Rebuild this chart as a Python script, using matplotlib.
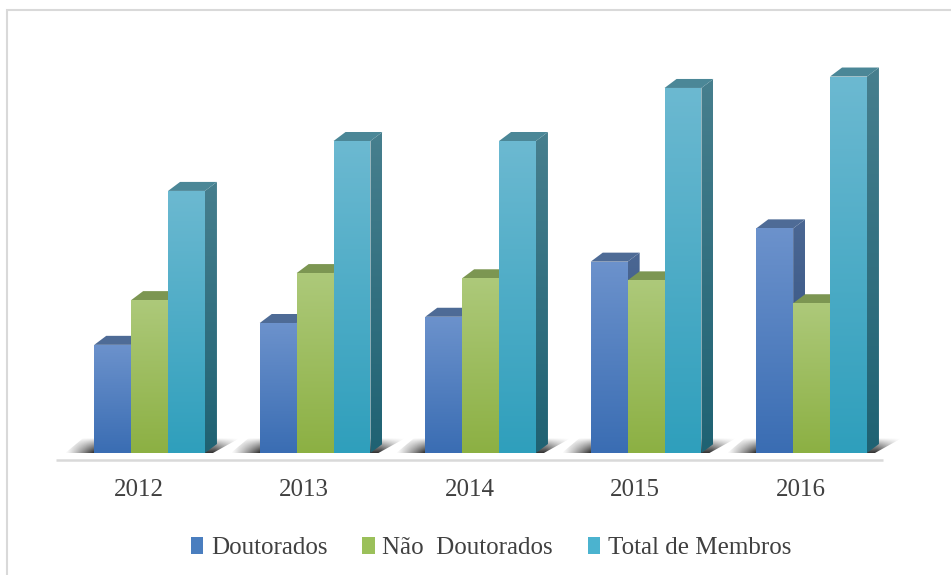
import numpy as np
import matplotlib
matplotlib.use('Agg')
import matplotlib.pyplot as plt
from matplotlib.patches import Polygon, Rectangle, Patch
from matplotlib.colors import to_rgb

plt.rcParams['font.family'] = ['Liberation Serif', 'DejaVu Serif']

############################################################################
# data
############################################################################
years = ['2012', '2013', '2014', '2015', '2016']
doutorados = [10.4, 12.5, 13.1, 18.4, 21.6]
nao_doutorados = [14.7, 17.3, 16.8, 16.6, 14.4]
total_membros = [25.2, 30.0, 30.0, 35.1, 36.2]
series_names = ['Doutorados', 'Não  Doutorados', 'Total de Membros']

# front gradient (top, bottom), side gradient, top face, legend colour
styles = [
    dict(front=('#6c92cc', '#3a6db3'), side=('#4b6793', '#2d4d7e'), top='#4e6b96', leg='#4a7ebf'),
    dict(front=('#adc97a', '#8cb043'), side=('#7d9654', '#66823a'), top='#7c9652', leg='#9bc05a'),
    dict(front=('#6cb9d1', '#2f9fbc'), side=('#477f8e', '#1f6273'), top='#4b8797', leg='#4bb3cf'),
]

############################################################################
# layout (pixels)
############################################################################
FIG_W, FIG_H = 951, 575
AX_L, AX_R, AX_T, AX_B = 40, 920, 30, 470
BASE_PX = 453        # value 0
X0_PX = 149.6        # centre of first group
GROUP_PX = 165.5
UNIT_PX = 10.4
DX = 12 / GROUP_PX   # depth offset in data units
DY = 9 / UNIT_PX
BAR_W = 36.9 / GROUP_PX

fig = plt.figure(figsize=(FIG_W / 100, FIG_H / 100), dpi=100)
fig.patches.append(Rectangle((6.5 / FIG_W, -0.1), 2, (1 - 9.5 / FIG_H) + 0.1,
                             transform=fig.transFigure, fill=False,
                             edgecolor='#d9d9d9', lw=1.5))
ax = fig.add_axes([AX_L / FIG_W, 1 - AX_B / FIG_H,
                   (AX_R - AX_L) / FIG_W, (AX_B - AX_T) / FIG_H])
ax.set_xlim((AX_L - X0_PX) / GROUP_PX, (AX_R - X0_PX) / GROUP_PX)
ax.set_ylim((BASE_PX - AX_B) / UNIT_PX, (BASE_PX - AX_T) / UNIT_PX)
ax.axis('off')


def grad_fill(xy, c_top, c_bot, z):
    xy = np.asarray(xy)
    poly = Polygon(xy, closed=True, facecolor='none', edgecolor='none', zorder=z)
    ax.add_patch(poly)
    t = np.linspace(0, 1, 128)[:, None]
    img = (1 - t) * np.array(to_rgb(c_top)) + t * np.array(to_rgb(c_bot))
    im = ax.imshow(img[:, None, :], extent=(xy[:, 0].min(), xy[:, 0].max(),
                                            xy[:, 1].min(), xy[:, 1].max()),
                   origin='upper', aspect='auto', zorder=z, interpolation='bilinear')
    im.set_clip_path(poly)


def shadow(x0, x1, z):
    px, py = 1 / GROUP_PX, 1 / UNIT_PX
    xy = np.array([[x0 - 29 * px, 0], [x1 + 8 * px, 0],
                   [x1 + 35 * px, 15 * py], [x0 - 11 * px, 15 * py]])
    poly = Polygon(xy, closed=True, facecolor='none', edgecolor='none', zorder=z)
    ax.add_patch(poly)
    nx, ny = 200, 40
    u = np.linspace(0, 1, nx)[None, :]
    v = np.linspace(1, 0, ny)[:, None]      # 1 at top row
    left = np.clip(u / 0.16, 0, 1)
    right = np.clip((1 - u) / 0.14, 0, 1)
    a = 0.95 * (1 - v) ** 0.9 * left ** 1.2 * right ** 0.8
    img = np.zeros((ny, nx, 4))
    img[..., :3] = 0.15
    img[..., 3] = a
    im = ax.imshow(img, extent=(xy[:, 0].min(), xy[:, 0].max(), 0, 15 * py),
                   origin='upper', aspect='auto', zorder=z, interpolation='bilinear')
    im.set_clip_path(poly)


x = np.arange(len(years))
all_vals = [doutorados, nao_doutorados, total_membros]
bars = []
for j, vals in enumerate(all_vals):
    b = ax.bar(x + (j - 1) * BAR_W, vals, width=BAR_W, color='none', edgecolor='none')
    bars.append(b)

# floor line
ax.hlines(-6.5 / UNIT_PX, (56 - X0_PX) / GROUP_PX, (883 - X0_PX) / GROUP_PX,
          color='#d9d9d9', lw=1.8, zorder=1)

for i in range(len(years)):
    r0 = bars[0][i]
    r2 = bars[2][i]
    shadow(r0.get_x(), r2.get_x() + r2.get_width(), 2)
    for j in range(3):
        r = bars[j][i]
        xl, w, h = r.get_x(), r.get_width(), r.get_height()
        xr = xl + w
        st = styles[j]
        z = 3 + j
        grad_fill([[xr, 0], [xr + DX, DY], [xr + DX, h + DY], [xr, h]],
                  st['side'][0], st['side'][1], z)
        ax.add_patch(Polygon([[xl, h], [xr, h], [xr + DX, h + DY], [xl + DX, h + DY]],
                             closed=True, facecolor=st['top'], edgecolor='none', zorder=z))
        grad_fill([[xl, 0], [xr, 0], [xr, h], [xl, h]], st['front'][0], st['front'][1], z)

# category labels
for i, yr in enumerate(years):
    ax.text(x[i] - 11 / GROUP_PX, -(490 - BASE_PX) / UNIT_PX, yr, ha='center', va='center',
            fontsize=18, color='#404040')

handles = [Patch(facecolor=s['leg'], edgecolor='none') for s in styles]
fig.legend(handles, series_names, loc='center', bbox_to_anchor=(491 / FIG_W, 1 - 548 / FIG_H),
           ncol=3, frameon=False, fontsize=18, handlelength=0.5, handleheight=0.65,
           handletextpad=0.3, columnspacing=1.4, labelcolor='#404040')

fig.savefig('out.png', dpi=100)
